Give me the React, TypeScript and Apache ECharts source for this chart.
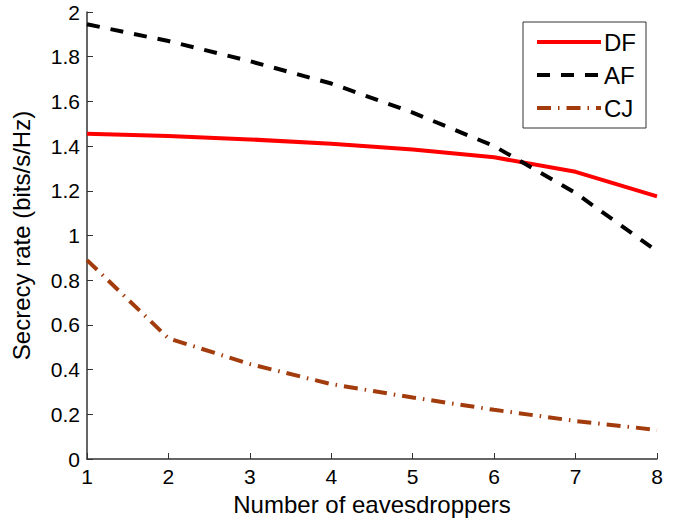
import React, { useEffect, useRef } from "react";
import * as echarts from "echarts";

const xValues = [1, 2, 3, 4, 5, 6, 7, 8];
const dfValues = [1.455, 1.445, 1.43, 1.41, 1.385, 1.35, 1.285, 1.175];
const afValues = [1.945, 1.87, 1.78, 1.68, 1.55, 1.4, 1.19, 0.93];
const cjValues = [0.89, 0.54, 0.425, 0.335, 0.275, 0.22, 0.17, 0.13];
const seriesNames = ["DF", "AF", "CJ"];

const colors = ["#ff0000", "#000000", "#a33c0c"];
const dashes: any[] = ["solid", [13, 11], [14, 7, 1.5, 7]];

export default function App() {
  const ref = useRef<HTMLDivElement>(null);
  useEffect(() => {
    if (!ref.current) return;
    const chart = echarts.init(ref.current, null, { renderer: "svg" });
    const font = "Liberation Sans";
    const pair = (vals: number[]) => xValues.map((x, i) => [x, vals[i]]);
    const allVals = [dfValues, afValues, cjValues];
    chart.setOption({
      animation: false,
      backgroundColor: "#fff",
      textStyle: { fontFamily: font },
      grid: { left: 87, top: 12, right: 24, bottom: 64, outerBoundsMode: "none", containLabel: false },
      legend: {
        orient: "vertical",
        right: 35,
        top: 22,
        itemWidth: 64,
        itemHeight: 14,
        itemGap: 9,
        padding: [8, 10, 8, 12],
        borderColor: "#333",
        borderWidth: 1,
        textStyle: { fontSize: 24, color: "#000", fontFamily: font, padding: [0, 0, 0, -2] },
        data: seriesNames.map((n, i) => ({
          name: n,
          itemStyle: { opacity: 0 },
          lineStyle: { width: 4, color: colors[i], type: dashes[i] },
        })),
      },
      xAxis: {
        type: "value",
        min: 1,
        max: 8,
        interval: 1,
        name: "Number of eavesdroppers",
        nameLocation: "middle",
        nameGap: 33,
        nameTextStyle: { fontSize: 24, color: "#000", fontFamily: font },
        axisLine: { lineStyle: { color: "#333", width: 1.5 } },
        axisTick: { inside: true, length: 6, lineStyle: { color: "#333" } },
        axisLabel: { fontSize: 21, color: "#000", margin: 7 },
        splitLine: { show: false },
      },
      yAxis: {
        type: "value",
        min: 0,
        max: 2,
        interval: 0.2,
        name: "Secrecy rate (bits/s/Hz)",
        nameLocation: "middle",
        nameGap: 54,
        nameTextStyle: { fontSize: 24, color: "#000", fontFamily: font },
        axisLine: { show: true, lineStyle: { color: "#333", width: 1.5 } },
        axisTick: { show: true, inside: true, length: 6, lineStyle: { color: "#333" } },
        axisLabel: { fontSize: 21, color: "#000", margin: 7 },
        splitLine: { show: false },
      },
      series: seriesNames.map((n, i) => ({
        name: n,
        type: "line",
        data: pair(allVals[i]),
        symbol: "none",
        lineStyle: { color: colors[i], width: 4, type: dashes[i] },
        itemStyle: { color: colors[i] },
      })),
    });
    return () => chart.dispose();
  }, []);
  return (
    <div
      ref={ref}
      style={{ position: "absolute", left: 0, top: 0, width: 681, height: 523 }}
    />
  );
}
